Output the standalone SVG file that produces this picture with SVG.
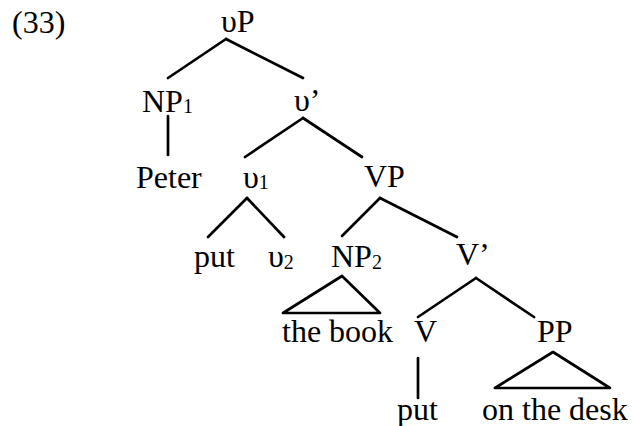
<svg xmlns="http://www.w3.org/2000/svg" width="633" height="426" viewBox="0 0 633 426">
<style>
text{font-family:"Liberation Serif","Times New Roman",serif;font-size:32px;fill:#000}
.sub{font-size:20px}
.e line,.e polygon{stroke:#000;stroke-width:2.7;fill:none;stroke-linecap:round;stroke-linejoin:round}
</style>
<rect width="633" height="426" fill="#fff"/>
<text x="12" y="33">(33)</text>
<g class="e" id="connectors">
<line x1="226" y1="39" x2="168" y2="78"/>
<line x1="226" y1="39" x2="303" y2="78"/>
<line x1="168" y1="116" x2="168" y2="155"/>
<line x1="303" y1="118" x2="245" y2="157"/>
<line x1="303" y1="118" x2="362" y2="157"/>
<line x1="247" y1="198" x2="208" y2="237"/>
<line x1="247" y1="198" x2="284" y2="237"/>
<line x1="380" y1="198" x2="342" y2="236"/>
<line x1="380" y1="198" x2="457" y2="237"/>
<polygon points="342,276 283,313 380,313"/>
<line x1="476" y1="278" x2="418" y2="317"/>
<line x1="476" y1="278" x2="534" y2="317"/>
<line x1="418" y1="358" x2="418" y2="398"/>
<polygon points="553,352 495,388 610,388"/>
</g>
<g id="vP"><text x="221" y="32">υP</text></g>
<g id="NP1"><text x="142" y="112">NP<tspan class="sub" dy="1">1</tspan></text></g>
<g id="vbar"><text x="294" y="111">υ’</text></g>
<g id="Peter"><text x="136" y="188">Peter</text></g>
<g id="v1"><text x="243" y="188">υ<tspan class="sub" dy="1">1</tspan></text></g>
<g id="VP"><text x="364" y="187">VP</text></g>
<g id="put1"><text x="194" y="267">put</text></g>
<g id="v2"><text x="268" y="267">υ<tspan class="sub" dy="2">2</tspan></text></g>
<g id="NP2"><text x="331" y="267">NP<tspan class="sub" dy="2">2</tspan></text></g>
<g id="Vbar"><text x="456" y="265">V’</text></g>
<g id="thebook"><text x="282" y="342">the book</text></g>
<g id="V"><text x="414" y="342">V</text></g>
<g id="PP"><text x="537" y="342">PP</text></g>
<g id="put2"><text x="397" y="420">put</text></g>
<g id="onthedesk"><text x="482" y="420">on the desk</text></g>
</svg>
